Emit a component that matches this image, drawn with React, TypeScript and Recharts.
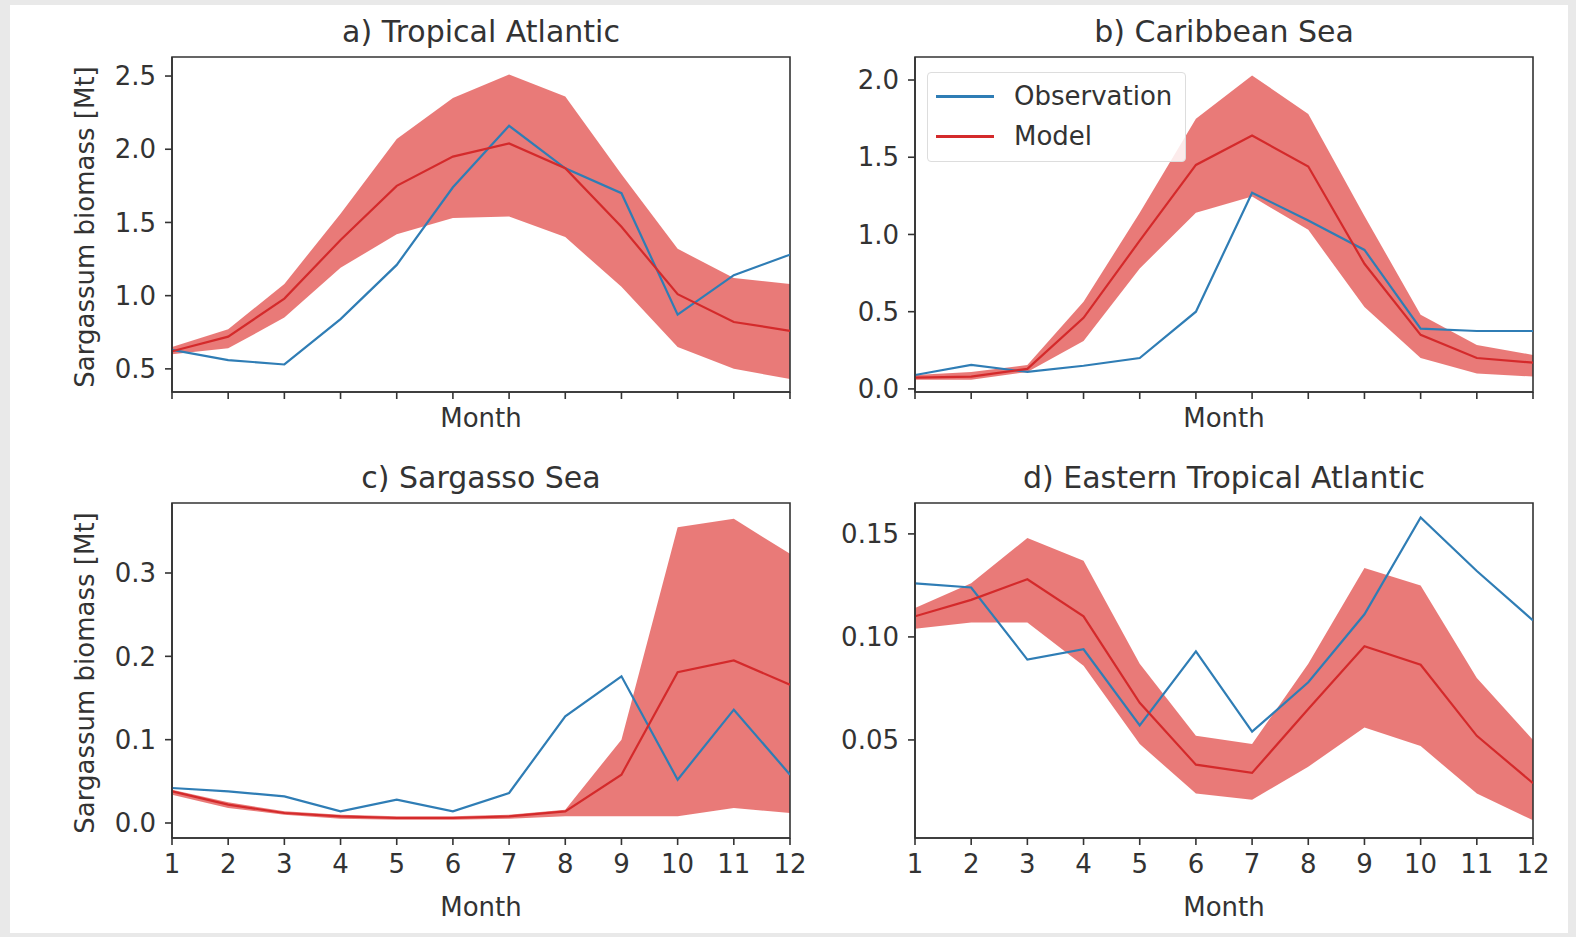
import React from 'react';
import { ComposedChart, Line, Area, XAxis, YAxis, ReferenceArea, Legend, Label } from 'recharts';

const months = [1, 2, 3, 4, 5, 6, 7, 8, 9, 10, 11, 12];

// a) Tropical Atlantic
const obsTropical = [0.63, 0.56, 0.53, 0.84, 1.21, 1.74, 2.16, 1.87, 1.7, 0.87, 1.14, 1.28];
const modelTropical = [0.62, 0.72, 0.98, 1.38, 1.75, 1.95, 2.04, 1.87, 1.47, 1.01, 0.82, 0.76];
const upperTropical = [0.65, 0.77, 1.08, 1.56, 2.07, 2.35, 2.51, 2.36, 1.83, 1.32, 1.12, 1.08];
const lowerTropical = [0.6, 0.64, 0.85, 1.19, 1.42, 1.53, 1.54, 1.4, 1.06, 0.65, 0.5, 0.43];

// b) Caribbean Sea
const obsCaribbean = [0.09, 0.155, 0.11, 0.15, 0.2, 0.5, 1.27, 1.09, 0.9, 0.39, 0.375, 0.375];
const modelCaribbean = [0.073, 0.08, 0.13, 0.46, 0.96, 1.45, 1.64, 1.44, 0.81, 0.35, 0.2, 0.17];
const upperCaribbean = [0.09, 0.11, 0.155, 0.565, 1.14, 1.75, 2.03, 1.78, 1.12, 0.48, 0.285, 0.22];
const lowerCaribbean = [0.06, 0.06, 0.11, 0.31, 0.78, 1.14, 1.245, 1.03, 0.53, 0.2, 0.1, 0.08];

// c) Sargasso Sea
const obsSargasso = [0.042, 0.038, 0.032, 0.014, 0.028, 0.014, 0.036, 0.128, 0.176, 0.052, 0.136, 0.058];
const modelSargasso = [0.038, 0.022, 0.012, 0.008, 0.006, 0.006, 0.008, 0.014, 0.058, 0.181, 0.195, 0.166];
const upperSargasso = [0.04, 0.025, 0.014, 0.01, 0.008, 0.008, 0.01, 0.016, 0.1, 0.355, 0.365, 0.323];
const lowerSargasso = [0.034, 0.018, 0.01, 0.005, 0.004, 0.004, 0.005, 0.008, 0.008, 0.008, 0.018, 0.012];

// d) Eastern Tropical Atlantic
const obsEastern = [0.126, 0.124, 0.089, 0.094, 0.057, 0.093, 0.054, 0.078, 0.111, 0.158, 0.132, 0.108];
const modelEastern = [0.11, 0.118, 0.128, 0.11, 0.068, 0.038, 0.034, 0.065, 0.0955, 0.0865, 0.052, 0.029];
const upperEastern = [0.114, 0.126, 0.148, 0.137, 0.087, 0.052, 0.048, 0.087, 0.1335, 0.125, 0.08, 0.05];
const lowerEastern = [0.104, 0.107, 0.107, 0.086, 0.048, 0.024, 0.021, 0.037, 0.056, 0.047, 0.024, 0.011];

const FONT = "'DejaVu Sans', sans-serif";
const TEXT = '#333';
const OBS_COLOR = '#2f7db5';
const MODEL_COLOR = '#d42a2b';
const FILL_COLOR = '#e0413f';

const PLOT_W = 618;
const PLOT_H = 335;
const Y_AXIS_W = 100;
const X_AXIS_H = 95;
const M_TOP = 10;
const M_RIGHT = 30;

const LegendBox = () => (
  <div
    style={{
      width: 257,
      height: 88,
      border: '1px solid #ddd',
      borderRadius: 4,
      background: 'rgba(255,255,255,0.85)',
      fontFamily: FONT,
      fontSize: 26,
      color: TEXT,
      position: 'relative',
    }}
  >
    {[
      { name: 'Observation', color: OBS_COLOR, y: 23 },
      { name: 'Model', color: MODEL_COLOR, y: 63 },
    ].map((it) => (
      <div key={it.name}>
        <div style={{ position: 'absolute', left: 8, top: it.y - 1.5, width: 58, height: 3, background: it.color }} />
        <div style={{ position: 'absolute', left: 86, top: it.y - 15, lineHeight: '30px' }}>{it.name}</div>
      </div>
    ))}
  </div>
);

interface PanelProps {
  title: string;
  obs: number[];
  model: number[];
  upper: number[];
  lower: number[];
  yDomain: [number, number];
  yTicks: number[];
  decimals: number;
  plotLeft: number;
  plotTop: number;
  showXTickLabels: boolean;
  showYLabel: boolean;
  showLegend?: boolean;
}

function Panel({ title, obs, model, upper, lower, yDomain, yTicks, decimals, plotLeft, plotTop, showXTickLabels, showYLabel, showLegend }: PanelProps) {
  const data = months.map((m, i) => ({
    month: m,
    obs: obs[i],
    model: model[i],
    band: [lower[i], upper[i]],
  }));
  const chartW = Y_AXIS_W + PLOT_W + M_RIGHT;
  const chartH = M_TOP + PLOT_H + X_AXIS_H;
  const axisStyle = { stroke: TEXT, strokeWidth: 1.6 };

  return (
    <>
      <div
        style={{
          position: 'absolute',
          left: plotLeft,
          top: plotTop - 40,
          width: PLOT_W,
          textAlign: 'center',
          fontFamily: FONT,
          fontSize: 30,
          lineHeight: '30px',
          color: TEXT,
        }}
      >
        {title}
      </div>
      {showYLabel && (
        <div
          style={{
            position: 'absolute',
            left: 85 - 200,
            top: plotTop + PLOT_H / 2 + 2 - 15,
            width: 400,
            height: 30,
            lineHeight: '30px',
            textAlign: 'center',
            transform: 'rotate(-90deg)',
            fontFamily: FONT,
            fontSize: 26,
            color: TEXT,
          }}
        >
          Sargassum biomass [Mt]
        </div>
      )}
      <div style={{ position: 'absolute', left: plotLeft - Y_AXIS_W, top: plotTop - M_TOP }}>
        <ComposedChart width={chartW} height={chartH} data={data} margin={{ top: M_TOP, right: M_RIGHT, left: 0, bottom: 0 }}>
          <XAxis
            dataKey="month"
            type="number"
            domain={[1, 12]}
            ticks={months}
            allowDataOverflow
            height={X_AXIS_H}
            axisLine={axisStyle}
            tickLine={axisStyle}
            tickSize={7}
            tickMargin={10}
            tick={{ fill: TEXT, fontSize: 26, fontFamily: FONT }}
            tickFormatter={(v: number) => (showXTickLabels ? String(v) : '')}
          >
            <Label
              value="Month"
              position="insideBottom"
              offset={showXTickLabels ? 17 : 60}
              style={{ fill: TEXT, fontSize: 26, fontFamily: FONT }}
            />
          </XAxis>
          <YAxis
            type="number"
            domain={yDomain}
            ticks={yTicks}
            allowDataOverflow
            width={Y_AXIS_W}
            axisLine={axisStyle}
            tickLine={axisStyle}
            tickSize={7}
            tickMargin={9}
            tick={{ fill: TEXT, fontSize: 26, fontFamily: FONT }}
            tickFormatter={(v: number) => v.toFixed(decimals)}
          />
          <Area
            dataKey="band"
            type="linear"
            stroke="none"
            fill={FILL_COLOR}
            fillOpacity={0.7}
            isAnimationActive={false}
            activeDot={false}
          />
          <Line dataKey="obs" type="linear" stroke={OBS_COLOR} strokeWidth={2.2} dot={false} activeDot={false} isAnimationActive={false} />
          <Line dataKey="model" type="linear" stroke={MODEL_COLOR} strokeWidth={2.2} dot={false} activeDot={false} isAnimationActive={false} />
          <ReferenceArea
            x1={1}
            x2={12}
            y1={yDomain[0]}
            y2={yDomain[1]}
            fill="none"
            stroke={TEXT}
            strokeWidth={1.6}
            ifOverflow="visible"
          />
          {showLegend && (
            <Legend
              layout="vertical"
              align="center"
              verticalAlign="middle"
              wrapperStyle={{ left: 112, top: 25, width: 259 }}
              content={() => <LegendBox />}
            />
          )}
        </ComposedChart>
      </div>
    </>
  );
}

export default function App() {
  return (
    <div style={{ position: 'absolute', left: 0, top: 0, width: 1576, height: 937, background: '#e9e9e9', overflow: 'hidden' }}>
      <div style={{ position: 'absolute', left: 10, top: 5, width: 1558, height: 928, background: '#fff' }} />
      <Panel
        title="a) Tropical Atlantic"
        obs={obsTropical}
        model={modelTropical}
        upper={upperTropical}
        lower={lowerTropical}
        yDomain={[0.342, 2.63]}
        yTicks={[0.5, 1.0, 1.5, 2.0, 2.5]}
        decimals={1}
        plotLeft={172}
        plotTop={57}
        showXTickLabels={false}
        showYLabel
      />
      <Panel
        title="b) Caribbean Sea"
        obs={obsCaribbean}
        model={modelCaribbean}
        upper={upperCaribbean}
        lower={lowerCaribbean}
        yDomain={[-0.02, 2.149]}
        yTicks={[0.0, 0.5, 1.0, 1.5, 2.0]}
        decimals={1}
        plotLeft={915}
        plotTop={57}
        showXTickLabels={false}
        showYLabel={false}
        showLegend
      />
      <Panel
        title="c) Sargasso Sea"
        obs={obsSargasso}
        model={modelSargasso}
        upper={upperSargasso}
        lower={lowerSargasso}
        yDomain={[-0.018, 0.384]}
        yTicks={[0.0, 0.1, 0.2, 0.3]}
        decimals={1}
        plotLeft={172}
        plotTop={503}
        showXTickLabels
        showYLabel
      />
      <Panel
        title="d) Eastern Tropical Atlantic"
        obs={obsEastern}
        model={modelEastern}
        upper={upperEastern}
        lower={lowerEastern}
        yDomain={[0.0024, 0.165]}
        yTicks={[0.05, 0.1, 0.15]}
        decimals={2}
        plotLeft={915}
        plotTop={503}
        showXTickLabels
        showYLabel={false}
      />
    </div>
  );
}
